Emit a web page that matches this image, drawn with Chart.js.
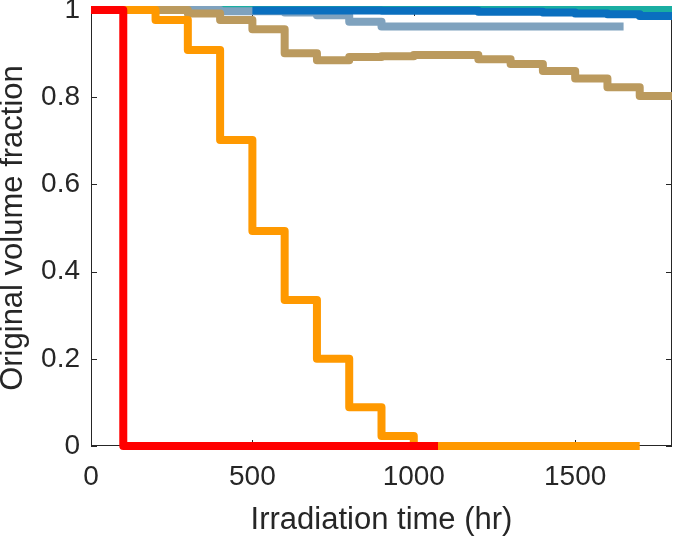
<!DOCTYPE html>
<html>
<head>
<meta charset="utf-8">
<script src="https://cdn.jsdelivr.net/npm/chart.js@4.4.0/dist/chart.umd.min.js"></script>
<style>
  html, body { margin: 0; padding: 0; background: #fff; }
</style>
</head>
<body>
<canvas id="fractionChart" width="678" height="538"></canvas>
<script>
// step data: value holds from time[i] until time[i+1]
const redTime = [0, 100, 1075];
const redFrac = [1, 0, 0];

const orangeTime = [0, 200, 300, 400, 500, 600, 700, 800, 900, 1000, 1700];
const orangeFrac = [1, 0.977, 0.908, 0.702, 0.493, 0.335, 0.2, 0.089, 0.023, 0, 0];

const tanTime = [0, 300, 400, 500, 600, 700, 800, 900, 1000, 1200, 1300, 1400, 1500, 1600, 1700, 1800];
const tanFrac = [1, 0.992, 0.977, 0.956, 0.901, 0.885, 0.892, 0.894, 0.897, 0.887, 0.876, 0.86, 0.843, 0.823, 0.803, 0.803];

const blueTime = [500, 900, 1200, 1400, 1500, 1600, 1700, 1800];
const blueFrac = [0.999, 0.998, 0.996, 0.994, 0.992, 0.99, 0.986, 0.986];

const greyTime = [0, 400, 600, 700, 800, 900, 1650];
const greyFrac = [1, 0.997, 0.994, 0.988, 0.973, 0.962, 0.962];

const tealTime = [0, 1800];
const tealFrac = [1, 1];

const xTicks = [0, 500, 1000, 1500];
const yTicks = [0, 0.2, 0.4, 0.6, 0.8, 1];
const yTickLabels = ['0', '0.2', '0.4', '0.6', '0.8', '1'];

function points(times, fracs) {
  return times.map((t, i) => ({ x: t, y: fracs[i] }));
}

function series(times, fracs, color) {
  return {
    data: points(times, fracs),
    borderColor: color,
    borderWidth: 8,
    stepped: true,
    pointRadius: 0,
    fill: false,
    clip: false,
    borderJoinStyle: 'round',
    borderCapStyle: 'butt'
  };
}

const axisColor = '#262626';
const fontFamily = '"Liberation Sans", Arial, Helvetica, sans-serif';

// MATLAB-style box with inward ticks, drawn beneath the lines
const boxPlugin = {
  id: 'matlabBox',
  beforeDatasetsDraw(chart) {
    const { ctx, chartArea: a, scales: { x, y } } = chart;
    ctx.save();
    ctx.strokeStyle = axisColor;
    ctx.lineWidth = 1;
    ctx.strokeRect(a.left + 0.5, a.top + 0.5, a.width - 1, a.height - 1);
    ctx.beginPath();
    xTicks.forEach(v => {
      const px = Math.round(x.getPixelForValue(v)) + 0.5;
      ctx.moveTo(px, a.bottom);
      ctx.lineTo(px, a.bottom - 6);
      ctx.moveTo(px, a.top);
      ctx.lineTo(px, a.top + 6);
    });
    yTicks.forEach(v => {
      const py = Math.round(y.getPixelForValue(v)) + 0.5;
      ctx.moveTo(a.left, py);
      ctx.lineTo(a.left + 6, py);
      ctx.moveTo(a.right, py);
      ctx.lineTo(a.right - 6, py);
    });
    ctx.stroke();
    ctx.restore();
  }
};

const ctx = document.getElementById('fractionChart').getContext('2d');

new Chart(ctx, {
  type: 'line',
  data: {
    datasets: [
      series(redTime, redFrac, '#ff0000'),
      series(orangeTime, orangeFrac, '#ff9900'),
      series(tanTime, tanFrac, '#bb9a5e'),
      series(blueTime, blueFrac, '#0a6fbf'),
      series(greyTime, greyFrac, '#7fa2be'),
      series(tealTime, tealFrac, '#1aaea2')
    ]
  },
  options: {
    responsive: false,
    animation: false,
    layout: { autoPadding: false, padding: { left: 0, right: 6, top: 10, bottom: 0 } },
    plugins: {
      legend: { display: false },
      tooltip: { enabled: false }
    },
    scales: {
      x: {
        type: 'linear',
        min: 0,
        max: 1800,
        afterBuildTicks: scale => { scale.ticks = xTicks.map(v => ({ value: v })); },
        afterFit: scale => {
          scale.height = 92;
          scale.paddingLeft = 0;
          scale.paddingRight = 0;
        },
        grid: { display: false, drawTicks: false },
        border: { display: false },
        ticks: {
          padding: 14,
          color: axisColor,
          font: { family: fontFamily, size: 28 },
          maxRotation: 0,
          callback: value => String(value)
        },
        title: {
          display: true,
          text: 'Irradiation time (hr)',
          color: axisColor,
          padding: { top: 0, bottom: 0 },
          font: { family: fontFamily, size: 31, lineHeight: 1.1 }
        }
      },
      y: {
        type: 'linear',
        min: 0,
        max: 1,
        afterBuildTicks: scale => { scale.ticks = yTicks.map(v => ({ value: v })); },
        afterFit: scale => {
          scale.width = 91;
          scale.paddingTop = 0;
          scale.paddingBottom = 0;
        },
        grid: { display: false, drawTicks: false },
        border: { display: false },
        ticks: {
          padding: 11,
          color: axisColor,
          font: { family: fontFamily, size: 28 },
          callback: (value, index) => yTickLabels[index]
        },
        title: {
          display: true,
          text: 'Original volume fraction',
          color: axisColor,
          padding: { top: 0, bottom: 0 },
          font: { family: fontFamily, size: 31, lineHeight: 0.87 }
        }
      }
    }
  },
  plugins: [boxPlugin]
});
</script>
</body>
</html>
